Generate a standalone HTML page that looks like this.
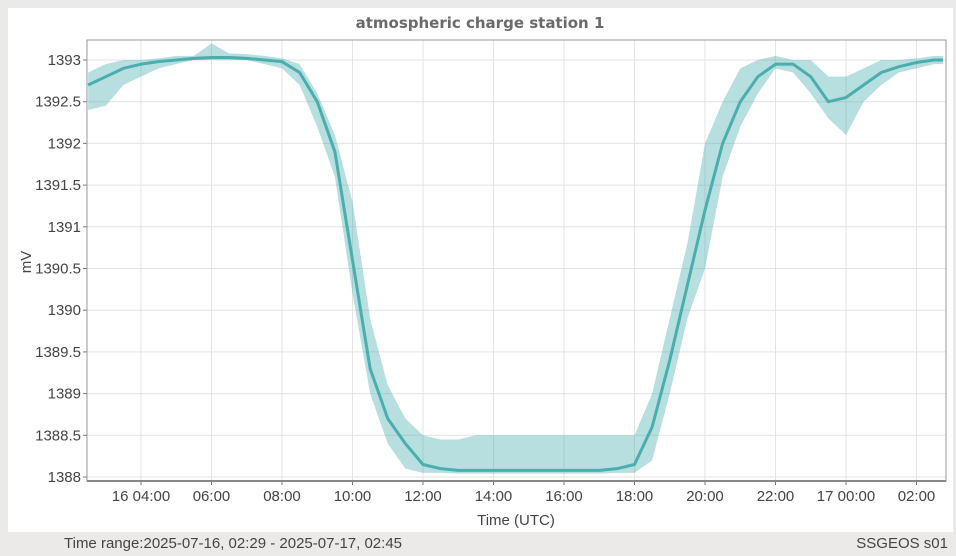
<!DOCTYPE html>
<html><head><meta charset="utf-8"><style>
html,body{margin:0;padding:0;background:#ebeae8;}
body{width:956px;height:556px;position:relative;overflow:hidden;font-family:"Liberation Sans","DejaVu Sans",sans-serif;}
#panel{position:absolute;left:8px;top:8px;width:945px;height:524px;background:#fff;}
svg{position:absolute;left:0;top:0;}
</style></head><body>
<div id="panel"></div>
<svg id="chart" width="956" height="556">
<text x="480" y="28" text-anchor="middle" font-size="15" font-weight="bold" fill="#6a6a6a" font-family="DejaVu Sans, sans-serif">atmospheric charge station 1</text>
<g id="grid"></g>
<g id="series"></g>
<g id="axes"></g>
<text x="31" y="262" text-anchor="middle" font-size="15" fill="#444" transform="rotate(-90 31 262)">mV</text>
<text x="516" y="525" text-anchor="middle" font-size="15" fill="#444">Time (UTC)</text>
<text x="64" y="548" font-size="15" fill="#444">Time range:2025-07-16, 02:29 - 2025-07-17, 02:45</text>
<text x="948" y="548" text-anchor="end" font-size="15" fill="#444">SSGEOS s01</text>
</svg>
<script>
// hours since 2025-07-16 00:00, 30-minute buckets
const times = [2.5,3,3.5,4,4.5,5,5.5,6,6.5,7,7.5,8,8.5,9,9.5,10,10.5,11,11.5,12,12.5,13,13.5,14,14.5,15,15.5,16,16.5,17,17.5,18,18.5,19,19.5,20,20.5,21,21.5,22,22.5,23,23.5,24,24.5,25,25.5,26,26.5,26.75];
const meanVals = [1392.7,1392.8,1392.9,1392.95,1392.98,1393.0,1393.02,1393.03,1393.03,1393.02,1393.0,1392.98,1392.85,1392.5,1391.9,1390.6,1389.3,1388.7,1388.4,1388.15,1388.1,1388.08,1388.08,1388.08,1388.08,1388.08,1388.08,1388.08,1388.08,1388.08,1388.1,1388.15,1388.6,1389.4,1390.3,1391.2,1392.0,1392.5,1392.8,1392.95,1392.95,1392.8,1392.5,1392.55,1392.7,1392.85,1392.92,1392.97,1393.0,1393.0];
const minVals = [1392.4,1392.45,1392.7,1392.8,1392.9,1392.95,1393.0,1393.0,1393.0,1393.0,1392.95,1392.9,1392.7,1392.2,1391.6,1390.2,1389.0,1388.4,1388.1,1388.05,1388.05,1388.04,1388.04,1388.04,1388.04,1388.04,1388.04,1388.04,1388.04,1388.04,1388.05,1388.05,1388.2,1389.0,1389.9,1390.5,1391.6,1392.2,1392.6,1392.9,1392.85,1392.6,1392.3,1392.1,1392.5,1392.7,1392.85,1392.9,1392.95,1392.95];
const maxVals = [1392.85,1392.95,1393.0,1393.0,1393.02,1393.05,1393.05,1393.2,1393.08,1393.07,1393.05,1393.02,1392.95,1392.6,1392.1,1391.3,1389.9,1389.1,1388.7,1388.5,1388.45,1388.45,1388.5,1388.5,1388.5,1388.5,1388.5,1388.5,1388.5,1388.5,1388.5,1388.5,1389.0,1389.9,1390.8,1392.0,1392.5,1392.9,1393.0,1393.05,1393.0,1393.0,1392.8,1392.8,1392.9,1393.0,1393.0,1393.02,1393.05,1393.05];
const yTicks = [1388,1388.5,1389,1389.5,1390,1390.5,1391,1391.5,1392,1392.5,1393];
const xTickHours = [4,6,8,10,12,14,16,18,20,22,24,26];
const xTickLabels = ["16 04:00","06:00","08:00","10:00","12:00","14:00","16:00","18:00","20:00","22:00","17 00:00","02:00"];

const L=87,R=946,T=40,B=481;
const x = h => 141 + (h-4)*35.25;
const y = v => 477 - (v-1388)*83.4;
const NS="http://www.w3.org/2000/svg";
function mk(tag, attrs, parent){const e=document.createElementNS(NS,tag);for(const k in attrs)e.setAttribute(k,attrs[k]);parent.appendChild(e);return e;}
const grid=document.getElementById('grid'), axes=document.getElementById('axes'), series=document.getElementById('series');

yTicks.forEach(v=>{
  const g=mk('line',{x1:L,x2:R,y1:y(v),y2:y(v),stroke:'#e3e3e3','stroke-width':1},grid);
  
  
  const t=mk('line',{x1:L-4,x2:L,y1:y(v),y2:y(v),stroke:'#777'},axes);
  
  
  const lb=mk('text',{x:L-6,y:y(v)+5,'text-anchor':'end','font-size':15,fill:'#444'},axes);
  lb.textContent=String(v);
  
  
});
xTickHours.forEach((h,i)=>{
  const g=mk('line',{x1:x(h),x2:x(h),y1:T,y2:B,stroke:'#e3e3e3'},grid);
  
  
  const t=mk('line',{x1:x(h),x2:x(h),y1:B,y2:B+4,stroke:'#777'},axes);
  
  
  const lb=mk('text',{x:x(h),y:B+20,'text-anchor':'middle','font-size':15,fill:'#444'},axes);
  lb.textContent=xTickLabels[i];
  
  
});
const box=mk('rect',{x:L,y:T,width:R-L,height:B-T,fill:'none',stroke:'#999','stroke-width':1},axes);


const bax=mk('line',{x1:L,x2:R,y1:B,y2:B,stroke:'#888','stroke-width':2},axes);



let d='M'+times.map((h,i)=>x(h)+','+y(maxVals[i])).join(' L');
for(let i=times.length-1;i>=0;i--) d+=' L'+x(times[i])+','+y(minVals[i]);
const band=mk('path',{d:d+' Z',fill:'#4aaeae','fill-opacity':0.4,stroke:'none'},series);


const line=mk('polyline',{points:times.map((h,i)=>x(h)+','+y(meanVals[i])).join(' '),fill:'none',stroke:'#4aaeae','stroke-width':3,'stroke-linejoin':'round'},series);


</script>
</body></html>
